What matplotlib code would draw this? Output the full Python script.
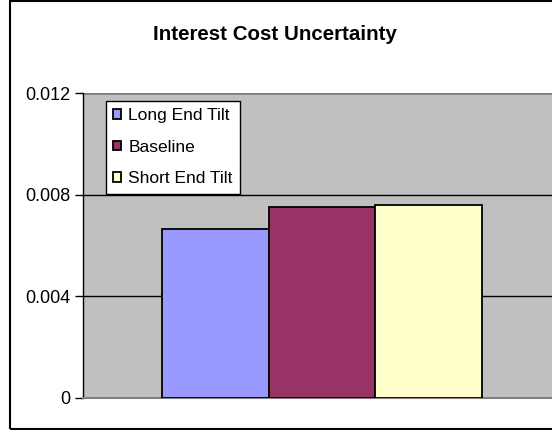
import matplotlib.pyplot as plt
from matplotlib.patches import Rectangle

# Data
scenarios = ['Long End Tilt', 'Baseline', 'Short End Tilt']
cost_uncertainty = [0.00663, 0.00752, 0.00759]
colors = ['#9999FF', '#993366', '#FFFFCC']
y_ticks = [0, 0.004, 0.008, 0.012]
y_tick_labels = ['0', '0.004', '0.008', '0.012']

plt.rcParams['font.family'] = ['Liberation Sans', 'DejaVu Sans']

fig = plt.figure(figsize=(5.52, 4.3), dpi=100)
ax = fig.add_axes([83 / 552, 32 / 430, 478 / 552, 305 / 430])
ax.set_facecolor('#C0C0C0')

for i, (name, val, c) in enumerate(zip(scenarios, cost_uncertainty, colors)):
    ax.bar(i, val, width=1.0, color=c, edgecolor='black', linewidth=1.3,
           label=name, zorder=3)

ax.set_xlim(-1.245, 3.245)
ax.set_ylim(0, 0.012)
ax.set_yticks(y_ticks)
ax.set_yticklabels(y_tick_labels, fontsize=13)
ax.set_xticks([])
ax.yaxis.grid(True, color='black', linewidth=1)
ax.set_axisbelow(True)
ax.tick_params(axis='y', direction='out', length=6, width=1, pad=3)

for side in ['top', 'right']:
    ax.spines[side].set_visible(False)
ax.spines['left'].set_color('black')
ax.spines['left'].set_linewidth(1)
ax.spines['bottom'].set_color('#808080')
ax.spines['bottom'].set_linewidth(1.5)
ax.axhline(0.012, color='#808080', linewidth=1.8, zorder=2)

leg = ax.legend(loc='upper left', bbox_to_anchor=(23 / 478, 1 - 8 / 305),
                fontsize=12.5, frameon=True, fancybox=False, framealpha=1,
                handlelength=0.46, handleheight=0.46, handletextpad=0.4,
                labelspacing=0.95, borderpad=0.42, borderaxespad=0)
leg.get_frame().set_edgecolor('black')
leg.get_frame().set_linewidth(1)
leg.get_frame().set_facecolor('white')

fig.text(275 / 552, 1 - 34 / 430, 'Interest Cost Uncertainty', ha='center',
         va='center', fontsize=14.8, fontweight='bold')

# outer chart border
fig.patches.append(Rectangle((10 / 552, 1 / 430), 1.0, 428 / 430,
                             transform=fig.transFigure, fill=False,
                             edgecolor='black', linewidth=1.5))

fig.savefig('out.png', dpi=100)
